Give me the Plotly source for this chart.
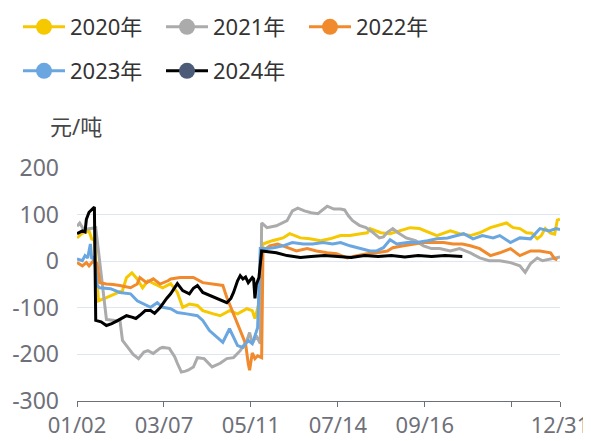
import plotly.graph_objects as go

# ---- data (x = category index of the MM/DD date axis, y = 元/吨) ----
tick_pos = [0, 65, 130, 195, 260, 325, 361]
tick_labels = ["01/02", "03/07", "05/11", "07/14", "09/16", "", "12/31"]

y_ticks = [-300, -200, -100, 0, 100, 200]
y_tick_labels = ["-300", "-200", "-100", "0", "100", "200"]

x_2020 = [0, 4, 9, 11, 13, 16, 22, 30, 34, 37, 41, 45, 49, 53, 60, 64, 70, 75, 79, 84, 90, 94, 102, 107, 114, 120, 127, 131, 133, 136, 139, 146, 154, 159, 167, 174, 182, 189, 197, 204, 212, 217, 219, 227, 234, 241, 249, 256, 264, 269, 279, 286, 294, 301, 309, 316, 321, 326, 331, 336, 340, 344, 347, 350, 354, 357, 359, 361]
y_2020 = [50, 60, 65, 48, 45, -85, -78, -67, -63, -35, -25, -38, -57, -42, -52, -57, -48, -67, -99, -92, -95, -106, -113, -117, -106, -113, -102, -106, -123, -90, 37, 44, 50, 59, 50, 48, 44, 48, 55, 55, 59, 61, 70, 61, 59, 65, 72, 70, 61, 55, 65, 59, 55, 61, 72, 78, 82, 72, 70, 61, 60, 48, 55, 70, 60, 58, 88, 90]

x_2021 = [0, 2, 5, 10, 14, 22, 30, 32, 34, 38, 42, 46, 50, 53, 57, 62, 64, 69, 73, 75, 78, 81, 83, 87, 90, 95, 101, 107, 112, 117, 122, 127, 129, 131, 134, 137, 138, 142, 149, 157, 161, 165, 170, 175, 180, 187, 192, 197, 200, 203, 206, 211, 216, 221, 226, 229, 232, 236, 240, 246, 253, 259, 265, 271, 279, 286, 294, 301, 308, 316, 324, 331, 335, 339, 344, 348, 354, 358, 361]
y_2021 = [75, 82, 68, 70, 72, -125, -128, -125, -170, -185, -200, -209, -195, -192, -198, -187, -185, -187, -205, -219, -238, -236, -234, -227, -207, -209, -227, -219, -209, -207, -192, -170, -153, -177, -160, -177, 82, 72, 76, 87, 108, 114, 108, 104, 102, 118, 112, 112, 110, 97, 87, 77, 72, 62, 50, 52, 62, 70, 61, 50, 44, 33, 27, 27, 22, 27, 18, 7, 1, 1, -3, -10, -24, -5, 7, 1, 5, 7, 9]

x_2022 = [0, 4, 7, 9, 12, 15, 17, 22, 27, 32, 40, 45, 47, 52, 57, 62, 68, 70, 77, 87, 94, 102, 109, 112, 117, 122, 126, 128, 129, 131, 133, 135, 138, 139, 144, 150, 154, 159, 164, 172, 179, 187, 194, 202, 209, 217, 224, 232, 236, 244, 251, 259, 266, 274, 281, 288, 294, 301, 309, 316, 324, 331, 339, 346, 354, 357, 359]
y_2022 = [-3, -10, -3, -10, 0, -5, -46, -49, -50, -52, -57, -49, -35, -46, -38, -49, -42, -38, -35, -35, -46, -49, -52, -78, -113, -149, -177, -220, -234, -197, -209, -203, -207, 22, 33, 37, 33, 27, 22, 27, 22, 18, 16, 7, 12, 16, 18, 22, 29, 33, 37, 40, 40, 40, 37, 37, 33, 27, 12, 18, 27, 12, 22, 22, 18, 5, 3]

x_2023 = [0, 4, 6, 8, 10, 11, 13, 15, 17, 25, 32, 40, 45, 49, 55, 60, 64, 70, 75, 82, 90, 94, 99, 105, 109, 114, 117, 120, 124, 128, 131, 133, 135, 137, 142, 147, 154, 161, 169, 176, 184, 191, 197, 204, 212, 219, 224, 229, 234, 239, 247, 254, 262, 269, 277, 284, 289, 296, 303, 311, 316, 324, 331, 339, 346, 353, 358, 361]
y_2023 = [5, 1, 12, 7, 37, 5, 10, -52, -57, -59, -67, -70, -85, -91, -99, -89, -99, -102, -110, -113, -117, -127, -149, -164, -174, -145, -164, -181, -185, -170, -177, -160, -143, 27, 27, 29, 33, 40, 37, 37, 40, 37, 40, 33, 27, 22, 22, 29, 46, 37, 40, 40, 44, 48, 50, 55, 59, 48, 55, 50, 55, 40, 50, 48, 70, 65, 70, 68]

x_2024 = [0, 2, 4, 6, 7, 9, 11, 13, 14, 18, 22, 26, 30, 34, 37, 41, 44, 47, 51, 55, 58, 62, 64, 67, 70, 73, 75, 79, 84, 87, 90, 94, 98, 102, 107, 112, 115, 117, 120, 122, 124, 126, 128, 131, 132, 133, 134, 136, 138, 142, 149, 157, 167, 175, 185, 195, 205, 215, 225, 235, 245, 255, 265, 275, 282, 288]
y_2024 = [59, 62, 65, 63, 90, 105, 110, 116, -127, -130, -138, -134, -128, -122, -117, -120, -123, -116, -106, -106, -112, -100, -91, -80, -70, -55, -48, -63, -70, -58, -52, -67, -72, -78, -84, -89, -80, -67, -42, -31, -38, -34, -46, -35, -38, -80, -50, -35, 22, 20, 18, 12, 8, 10, 12, 10, 8, 12, 10, 12, 9, 12, 10, 12, 11, 10]

series = [
    ("2020年", x_2020, y_2020, "#F5C800", "#F5C800", "legend"),
    ("2021年", x_2021, y_2021, "#ABABAB", "#ABABAB", "legend"),
    ("2022年", x_2022, y_2022, "#F18A2C", "#F18A2C", "legend"),
    ("2023年", x_2023, y_2023, "#6AA6E0", "#6AA6E0", "legend2"),
    ("2024年", x_2024, y_2024, "#000000", "#4B5B78", "legend2"),
]

FONT = "Noto Sans, Noto Sans CJK SC, sans-serif"
W, H = 583, 433  # page adds an 8px body margin

fig = go.Figure()
for name, xs, ys, lc, mc, lg in series:
    fig.add_trace(go.Scatter(
        x=xs, y=ys, mode="lines", name=name, legendgroup=name, showlegend=False,
        line=dict(color=lc, width=3), hoverinfo="skip"))
    fig.add_trace(go.Scatter(
        x=[None], y=[None], mode="lines+markers", name=name, legendgroup=name,
        showlegend=True, legend=lg,
        line=dict(color=lc, width=3), marker=dict(color=mc, size=20)))

legend_common = dict(
    orientation="h", xref="container", yref="container", xanchor="left", yanchor="middle",
    font=dict(family=FONT, size=22, color="#333333"), itemwidth=42,
    entrywidth=86, entrywidthmode="pixels", bgcolor="rgba(0,0,0,0)",
    traceorder="normal", itemclick=False)

fig.update_layout(
    width=W, height=H,
    margin=dict(l=69, r=31, t=160, b=40, autoexpand=False),
    paper_bgcolor="white", plot_bgcolor="white",
    font=dict(family=FONT, color="#6E7079"),
    showlegend=True,
    legend=dict(x=10 / W, y=1 - 19 / H, **legend_common),
    legend2=dict(x=10 / W, y=1 - 63 / H, **legend_common),
    xaxis=dict(
        range=[0, 361], tickmode="array", tickvals=tick_pos, ticktext=tick_labels,
        showgrid=False, zeroline=False, showline=True, linecolor="#6E7079", linewidth=1,
        ticks="outside", ticklen=5, tickcolor="#6E7079",
        tickfont=dict(family=FONT, size=22, color="#6E7079")),
    yaxis=dict(
        range=[-300, 200], tickmode="array", tickvals=y_ticks, ticktext=y_tick_labels,
        showgrid=True, gridcolor="#E0E6F1", gridwidth=1, zeroline=False, showline=False,
        ticks="", ticklabelstandoff=17,
        tickfont=dict(family=FONT, size=23, color="#6E7079")),
    annotations=[dict(
        text="元/吨", xref="paper", yref="paper", x=-1 / 483, y=(393 - 118) / 233,
        xanchor="center", yanchor="middle", showarrow=False,
        font=dict(family=FONT, size=22, color="#464646"))],
)

fig.write_html("out.html")
